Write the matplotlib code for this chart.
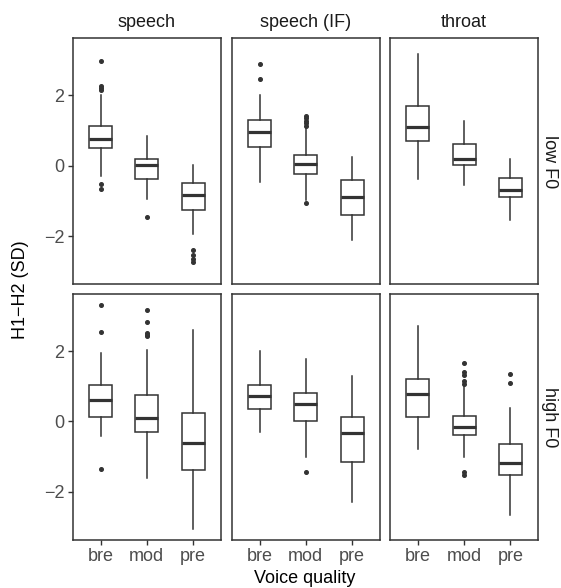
import matplotlib
matplotlib.use("Agg")
import matplotlib.pyplot as plt

plt.rcParams['font.family'] = ['Liberation Sans', 'DejaVu Sans']

categories = ["bre", "mod", "pre"]
columns = ["speech", "speech (IF)", "throat"]
rows = ["low F0", "high F0"]

# stats per panel: list of (whislo, q1, med, q3, whishi, fliers) per category
low_speech = [
    (-0.29, 0.49, 0.76, 1.12, 2.00, [2.97, 2.27, 2.20, 2.15, -0.53, -0.67]),
    (-0.96, -0.39, 0.01, 0.20, 0.83, [-1.45]),
    (-1.94, -1.26, -0.83, -0.49, 0.03, [-2.39, -2.54, -2.64, -2.73]),
]
low_speechIF = [
    (-0.46, 0.53, 0.96, 1.29, 2.01, [2.88, 2.47]),
    (-0.97, -0.25, 0.05, 0.29, 1.10, [1.42, 1.36, 1.28, 1.20, 1.14, -1.07]),
    (-2.11, -1.41, -0.90, -0.42, 0.24, []),
]
low_throat = [
    (-0.39, 0.69, 1.11, 1.71, 3.16, []),
    (-0.54, 0.01, 0.20, 0.61, 1.27, []),
    (-1.53, -0.89, -0.70, -0.35, 0.19, []),
]
high_speech = [
    (-0.41, 0.12, 0.60, 1.03, 1.95, [3.31, 2.53, -1.34]),
    (-1.62, -0.29, 0.09, 0.76, 2.04, [3.16, 2.83, 2.52, 2.46, 2.42]),
    (-3.06, -1.38, -0.61, 0.24, 2.61, []),
]
high_speechIF = [
    (-0.31, 0.35, 0.71, 1.03, 1.99, []),
    (-1.01, 0.01, 0.49, 0.80, 1.76, [-1.44]),
    (-2.28, -1.16, -0.34, 0.13, 1.29, []),
]
high_throat = [
    (-0.78, 0.12, 0.77, 1.20, 2.72, []),
    (-1.02, -0.40, -0.16, 0.16, 1.00, [1.65, 1.40, 1.33, 1.14, 1.07, -1.43, -1.53]),
    (-2.66, -1.51, -1.18, -0.64, 0.38, [1.35, 1.10]),
]
panels = [[low_speech, low_speechIF, low_throat],
          [high_speech, high_speechIF, high_throat]]

W, H = 561, 588
fig = plt.figure(figsize=(W / 100, H / 100), dpi=100)

col_left = [72.7, 231.7, 390.0]
pw = 148.3
row_top = [38.3, 294.0]
ph = 246.0

grey20 = "#333333"
grey30 = "#4D4D4D"
FS = 13

for r in range(2):
    for c in range(3):
        ax = fig.add_axes([col_left[c] / W, 1 - (row_top[r] + ph) / H, pw / W, ph / H])
        stats = []
        for i, (lo, q1, med, q3, hi, fl) in enumerate(panels[r][c]):
            stats.append(dict(whislo=lo, q1=q1, med=med, q3=q3, whishi=hi,
                              fliers=fl, label=categories[i]))
        ax.bxp(stats, positions=[1, 2, 3], widths=0.5, showcaps=False,
               patch_artist=True,
               boxprops=dict(facecolor="white", edgecolor=grey20, linewidth=1.1),
               whiskerprops=dict(color=grey20, linewidth=1.1),
               medianprops=dict(color=grey20, linewidth=2.3, solid_capstyle="butt"),
               flierprops=dict(marker="o", markersize=2.6, markerfacecolor=grey20,
                               markeredgecolor=grey20, linestyle="none"))
        ax.set_xlim(0.4, 3.6)
        ax.set_ylim(-3.37, 3.62)
        ax.set_yticks([-2, 0, 2])
        ax.set_xticks([1, 2, 3])
        for s in ax.spines.values():
            s.set_color(grey20)
            s.set_linewidth(1.1)
        ax.tick_params(axis="both", direction="out", length=3.5, width=1.0,
                       color=grey20, labelcolor=grey30, labelsize=FS, pad=2.5)
        if c == 0:
            ax.set_yticklabels(["\u22122", "0", "2"])
        else:
            ax.tick_params(axis="y", left=False, labelleft=False)
        if r == 1:
            ax.set_xticklabels(categories)
        else:
            ax.tick_params(axis="x", bottom=False, labelbottom=False)
        if r == 0:
            ax.set_title(columns[c], fontsize=FS, color="#1A1A1A", pad=8)
        if c == 2:
            ax.text(1.02, 0.5, rows[r], transform=ax.transAxes, rotation=-90,
                    ha="left", va="center", fontsize=FS, color="#1A1A1A")

fig.text(305 / W, 1 - 583 / H, "Voice quality", ha="center", va="baseline",
         fontsize=FS, color="black")
fig.text(21 / W, 1 - 290 / H, "H1\u2212H2 (SD)", ha="center", va="center",
         rotation=90, fontsize=FS, color="black")

fig.savefig("out.png", dpi=100, facecolor="white")
